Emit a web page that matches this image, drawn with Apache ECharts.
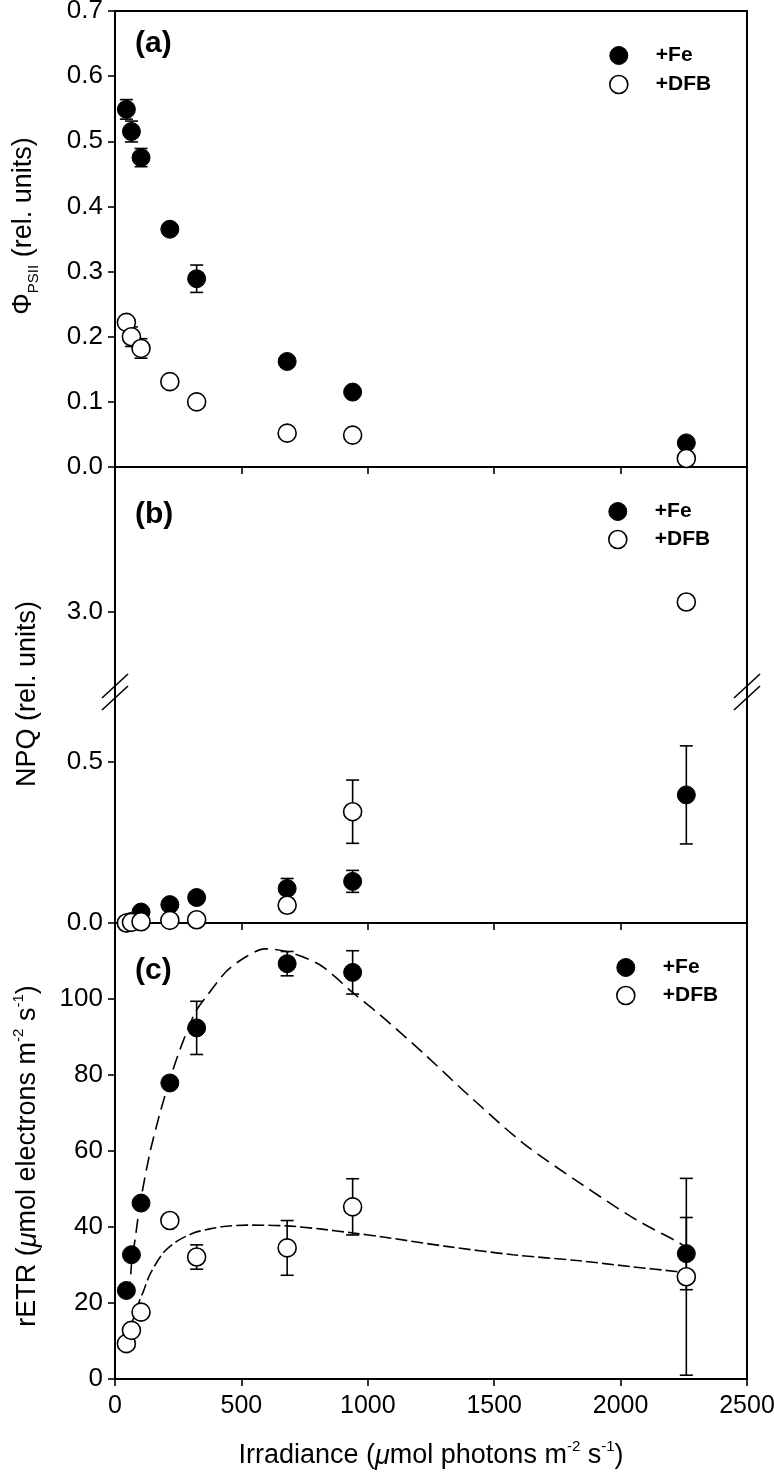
<!DOCTYPE html>
<html><head><meta charset="utf-8">
<script src="https://cdn.jsdelivr.net/npm/echarts@6/dist/echarts.min.js"></script>
<style>html,body{margin:0;padding:0;background:#fff}#c{width:774px;height:1474px}</style>
</head><body><div id="c"></div>
<script>
// ---------------- data ----------------
const irradiance = [45, 65, 103, 217, 323, 681, 940, 2260];
const irrTicks = [0, 500, 1000, 1500, 2000, 2500];

// (a) PhiPSII
const phiFe     = [0.549, 0.515, 0.475, 0.365, 0.289, 0.162, 0.115, 0.037];
const phiFeErr  = [0.015, 0.016, 0.014, 0.006, 0.021, 0.004, 0.004, 0.003];
const phiDfb    = [0.222, 0.200, 0.182, 0.131, 0.100, 0.052, 0.049, 0.013];
const phiDfbErr = [0.006, 0.015, 0.015, 0.005, 0.004, 0.003, 0.003, 0.002];
const phiTicks  = [0, 0.1, 0.2, 0.3, 0.4, 0.5, 0.6, 0.7];

// (b) NPQ (broken axis)
const npqFe     = [0.000, 0.005, 0.034, 0.057, 0.079, 0.107, 0.129, 0.397];
const npqFeErr  = [0.003, 0.004, 0.006, 0.008, 0.012, 0.031, 0.034, 0.152];
const npqDfb    = [0.000, 0.002, 0.004, 0.008, 0.010, 0.055, 0.345, 3.03];
const npqDfbErr = [0.002, 0.002, 0.003, 0.003, 0.004, 0.008, 0.098, 0.020];
const npqLowerRange = [0, 0.716];
const npqUpperRange = [2.75, 3.45];
const npqLowerTicks = [0, 0.5];
const npqUpperTicks = [3.0];

// (c) rETR
const etrFe     = [23.3, 32.7, 46.3, 77.9, 92.4, 109.3, 107.0, 33.0];
const etrFeErr  = [0.5, 0.8, 1.0, 1.2, 7.0, 3.2, 5.7, 9.5];
const etrDfb    = [9.3, 12.8, 17.6, 41.7, 32.1, 34.5, 45.3, 26.9];
const etrDfbErr = [0.5, 0.5, 0.8, 0.8, 3.2, 7.2, 7.4, 25.9];
const etrTicks  = [0, 20, 40, 60, 80, 100];

// fitted curves in (c)
const fitFeX = [58, 65, 80, 99, 138, 178, 217, 257, 316, 362, 441, 520, 593, 678, 810, 942, 1047, 1219, 1403, 1614, 1838, 2062, 2233, 2260];
const fitFeY = [22, 30, 37, 46, 59.5, 70, 78.8, 86.7, 96.3, 100.7, 107.3, 111.2, 113.2, 112.5, 109, 101.6, 95.9, 85.8, 74.4, 62.1, 51.6, 41.9, 35.8, 34.5];
const fitDfbX = [46, 66, 99, 112, 138, 191, 244, 310, 375, 441, 520, 678, 810, 942, 1047, 1311, 1574, 1838, 2036, 2220, 2260];
const fitDfbY = [10, 14.5, 21, 23, 27.5, 33.2, 36.2, 38.4, 39.5, 40.2, 40.5, 40.3, 39.5, 38.4, 37.5, 34.9, 32.7, 31.1, 29.6, 28.3, 28];

// ---------------- layout ----------------
const FONT = '"Liberation Sans", Arial, Helvetica, sans-serif';
const L = 115, W = 632;
const P = { a: {top: 11, h: 456}, bu: {top: 467, h: 225}, bl: {top: 692, h: 231}, c: {top: 923, h: 456} };

const axisLine = {show: true, onZero: false, lineStyle: {color: '#000', width: 2}};
const tickOut = {show: true, inside: false, length: 7, lineStyle: {color: '#000', width: 1.6}};
const lbl = {show: true, color: '#000', fontSize: 25, fontFamily: FONT, margin: 12};
const ylbl = Object.assign({}, lbl, {fontSize: 26});

function grid(p) { return {left: L, top: p.top, width: W, height: p.h, outerBoundsMode: 'none', containLabel: false}; }
function xAx(g, extra) {
  return Object.assign({type: 'value', gridIndex: g, min: 0, max: 2500, interval: 500, splitLine: {show: false},
    axisLine, axisTick: Object.assign({}, tickOut, {customValues: irrTicks}), axisLabel: {show: false}}, extra || {});
}
function yAx(g, range, ticks, fmt) {
  return {type: 'value', gridIndex: g, min: range[0], max: range[1], splitLine: {show: false}, axisLine,
    axisTick: Object.assign({}, tickOut, {customValues: ticks}),
    axisLabel: Object.assign({}, ylbl, {customValues: ticks, formatter: fmt})};
}
function yRight(g, range) {
  return {type: 'value', gridIndex: g, position: 'right', min: range[0], max: range[1], splitLine: {show: false},
    axisLine, axisTick: {show: false}, axisLabel: {show: false}};
}
const f1 = v => Number(v).toFixed(1);
const f0 = v => String(Math.round(v));

function pairs(xs, ys, keep) {
  const out = [];
  xs.forEach((x, i) => { if (ys[i] != null && (!keep || keep(ys[i]))) out.push([x, ys[i]]); });
  return out;
}
function triples(xs, ys, es, keep) {
  const out = [];
  xs.forEach((x, i) => { if (ys[i] != null && (!keep || keep(ys[i]))) out.push([x, ys[i], es[i]]); });
  return out;
}
function errSeries(xi, yi, data, z) {
  return {type: 'custom', xAxisIndex: xi, yAxisIndex: yi, z, silent: true, clip: false, data, encode: {x: 0, y: 1},
    renderItem: (params, api) => {
      const x = api.value(0), y = api.value(1), e = api.value(2);
      const t = api.coord([x, y + e]), b = api.coord([x, y - e]);
      const hw = 6.5, st = {stroke: '#000', lineWidth: 1.6};
      return {type: 'group', children: [
        {type: 'line', shape: {x1: t[0], y1: t[1], x2: b[0], y2: b[1]}, style: st},
        {type: 'line', shape: {x1: t[0] - hw, y1: t[1], x2: t[0] + hw, y2: t[1]}, style: st},
        {type: 'line', shape: {x1: b[0] - hw, y1: b[1], x2: b[0] + hw, y2: b[1]}, style: st}
      ]};
    }};
}
const feStyle = {color: '#000', borderColor: '#000', borderWidth: 1, opacity: 1};
const dfbStyle = {color: '#fff', borderColor: '#000', borderWidth: 1.6, opacity: 1};
function sc(name, xi, yi, data, style, z) {
  return {type: 'scatter', name, xAxisIndex: xi, yAxisIndex: yi, z, symbol: 'circle', symbolSize: 18,
    itemStyle: style, data, silent: true, clip: false};
}
function curve(xi, yi, xs, ys, dash) {
  return {type: 'line', xAxisIndex: xi, yAxisIndex: yi, z: 1, data: pairs(xs, ys), smooth: 0.3, showSymbol: false,
    symbol: 'none', lineStyle: {color: '#000', width: 1.6, type: dash}, silent: true};
}
function leg(cx, cy, gap) {
  return {show: true, orient: 'vertical', left: cx - 10, top: cy - 9, itemWidth: 64, itemHeight: 18, itemGap: gap,
    selectedMode: false, padding: 0, symbolKeepAspect: true,
    textStyle: {fontFamily: FONT, fontWeight: 'bold', fontSize: 21, color: '#000', lineHeight: 18},
    data: [
      {name: '+Fe', icon: 'circle', itemStyle: {color: '#000', borderColor: '#000', borderWidth: 1, opacity: 1}},
      {name: '+DFB', icon: 'circle', itemStyle: {color: '#fff', borderColor: '#000', borderWidth: 1.6, opacity: 1}}
    ]};
}

const brkY = P.bl.top;
function breakMarks(x) {
  return [-6, 6].map(d => ({type: 'line', z: 20, silent: true,
    shape: {x1: x - 13, y1: brkY + d + 12, x2: x + 13, y2: brkY + d - 12},
    style: {stroke: '#000', lineWidth: 1.6}}));
}
const titleFont = 27;
const rich = {
  t: {fontSize: titleFont, fontFamily: FONT, color: '#000', lineHeight: 34},
  i: {fontSize: titleFont, fontFamily: FONT, fontStyle: 'italic', color: '#000', lineHeight: 34},
  s: {fontSize: 15, fontFamily: FONT, color: '#000', verticalAlign: 'bottom', lineHeight: 15},
  p: {fontSize: 15, fontFamily: FONT, color: '#000', verticalAlign: 'top', lineHeight: 15}
};
function title(text, x, y, rot) {
  return {type: 'text', x, y, rotation: rot ? Math.PI / 2 : 0, silent: true, z: 20,
    style: {text, rich, align: 'center', verticalAlign: 'middle'}};
}
function panelLabel(text, y) {
  return {type: 'text', x: 135, y, silent: true, z: 20,
    style: {text, font: 'bold 30px ' + FONT, fill: '#000', align: 'left', verticalAlign: 'middle'}};
}

const chart = echarts.init(document.getElementById('c'), null, {renderer: 'canvas'});
chart.setOption({
  animation: false,
  backgroundColor: '#fff',
  grid: [grid(P.a), grid(P.bu), grid(P.bl), grid(P.c)],
  xAxis: [
    xAx(0),
    xAx(0, {position: 'top', axisTick: {show: false}}),
    xAx(1, {show: false}),
    xAx(2),
    xAx(3, {axisLabel: Object.assign({}, lbl, {margin: 15, customValues: irrTicks, formatter: f0})})
  ],
  yAxis: [
    yAx(0, [0, 0.7], phiTicks, f1), yRight(0, [0, 0.7]),
    yAx(1, npqUpperRange, npqUpperTicks, f1), yRight(1, npqUpperRange),
    yAx(2, npqLowerRange, npqLowerTicks, f1), yRight(2, npqLowerRange),
    yAx(3, [0, 120], etrTicks, f0), yRight(3, [0, 120])
  ],
  legend: [leg(619, 54, 8), leg(618, 510, 7), leg(626, 966, 7)],
  series: [
    // (a)
    errSeries(0, 0, triples(irradiance, phiFe, phiFeErr), 2),
    sc('+Fe', 0, 0, pairs(irradiance, phiFe), feStyle, 3),
    errSeries(0, 0, triples(irradiance, phiDfb, phiDfbErr), 4),
    sc('+DFB', 0, 0, pairs(irradiance, phiDfb), dfbStyle, 5),
    // (b) lower
    errSeries(3, 4, triples(irradiance, npqFe, npqFeErr, v => v <= npqLowerRange[1]), 2),
    sc('+Fe', 3, 4, pairs(irradiance, npqFe, v => v <= npqLowerRange[1]), feStyle, 3),
    errSeries(3, 4, triples(irradiance, npqDfb, npqDfbErr, v => v <= npqLowerRange[1]), 4),
    sc('+DFB', 3, 4, pairs(irradiance, npqDfb, v => v <= npqLowerRange[1]), dfbStyle, 5),
    // (b) upper
    sc('+Fe', 2, 2, pairs(irradiance, npqFe, v => v >= npqUpperRange[0]), feStyle, 3),
    sc('+DFB', 2, 2, pairs(irradiance, npqDfb, v => v >= npqUpperRange[0]), dfbStyle, 5),
    // (c)
    curve(4, 6, fitFeX, fitFeY, [14, 7]),
    curve(4, 6, fitDfbX, fitDfbY, [12, 4]),
    errSeries(4, 6, triples(irradiance, etrFe, etrFeErr), 2),
    sc('+Fe', 4, 6, pairs(irradiance, etrFe), feStyle, 3),
    errSeries(4, 6, triples(irradiance, etrDfb, etrDfbErr), 4),
    sc('+DFB', 4, 6, pairs(irradiance, etrDfb), dfbStyle, 5)
  ],
  graphic: [
    ...breakMarks(L), ...breakMarks(L + W),
    panelLabel('(a)', 44), panelLabel('(b)', 515), panelLabel('(c)', 971),
    title('{t|Φ}{s|PSII}{t| (rel. units)}', 24, 226, true),
    title('{t|NPQ (rel. units)}', 28, 694, true),
    title('{t|rETR (}{i|μ}{t|mol electrons m}{p|-2}{t| s}{p|-1}{t|)}', 28, 1156, true),
    title('{t|Irradiance (}{i|μ}{t|mol photons m}{p|-2}{t| s}{p|-1}{t|)}', L + W / 2, 1456, false)
  ]
});
</script>
</body></html>
